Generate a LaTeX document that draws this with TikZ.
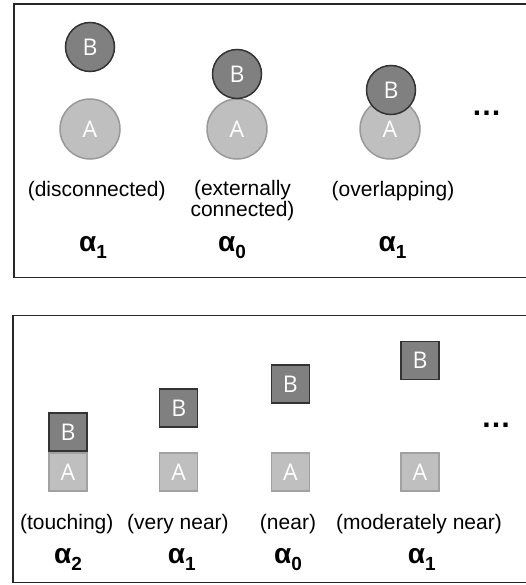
\documentclass[tikz,border=0pt]{standalone}
\usepackage{fontspec}
\setmainfont{Liberation Sans}
\newfontfamily\shapefont{Open Sans}
\newcommand\alphalbl[1]{α\raisebox{-0.25em}{\fontsize{19}{19}\selectfont #1}}
\tikzset{
  frame/.style={draw=black!85, line width=1.4pt},
  circA/.style={circle, draw=black!40, fill=black!25, line width=1.5pt, minimum size=60pt, inner sep=0pt, text=white, font=\shapefont\fontsize{23}{23}\selectfont},
  circB/.style={circle, draw=black!80, fill=black!50, line width=1.5pt, minimum size=49pt, inner sep=0pt, text=white, font=\shapefont\fontsize{23}{23}\selectfont},
  sqA/.style={rectangle, draw=black!37, fill=black!25, line width=1.5pt, minimum size=38pt, inner sep=0pt, text=white, font=\shapefont\fontsize{23}{23}\selectfont},
  sqB/.style={rectangle, draw=black!80, fill=black!50, line width=1.5pt, minimum size=38pt, inner sep=0pt, text=white, font=\shapefont\fontsize{23}{23}\selectfont},
  lbl/.style={inner sep=0pt, align=center, font=\fontsize{21}{21}\selectfont},
  alph/.style={inner sep=0pt, anchor=base, font=\bfseries\fontsize{28}{28}\selectfont},
  dots/.style={inner sep=0pt, anchor=base, font=\bfseries\fontsize{30}{30}\selectfont}
}
\begin{document}
\begin{tikzpicture}[x=1pt, y=-1pt]
  \useasboundingbox (0,0) rectangle (526,585);
  % frames
  \draw[frame] (14,4) rectangle (540,277.7);
  \draw[frame] (13,315.7) rectangle (540,582.7);
  % top row: circles
  \node[circA] (a1) at (90,129) {A};
  \node[circB] (b1) at (90,47) {B};
  \node[circA] (a2) at (237,129) {A};
  \node[circB] (b2) at (237,74) {B};
  \node[circA] (a3) at (390,129) {A};
  \node[circB] (b3) at (391,90) {B};
  \node[dots] (d1) at (486.5,116) {…};
  \node[lbl] (l1) at (96.7,190.8) {(disconnected)};
  \node[lbl] (l2) at (242.5,200.8) {(externally\\connected)};
  \node[lbl] (l3) at (393,190.8) {(overlapping)};
  \node[alph] (g1) at (93,251) {\alphalbl{1}};
  \node[alph] (g2) at (232,251) {\alphalbl{0}};
  \node[alph] (g3) at (392.5,251) {\alphalbl{1}};
  % bottom row: squares
  \node[sqA] (sa1) at (68,472.2) {A};
  \node[sqB] (sb1) at (68,432.2) {B};
  \node[sqA] (sa2) at (178.7,472.2) {A};
  \node[sqB] (sb2) at (178.7,408) {B};
  \node[sqA] (sa3) at (290.3,472.2) {A};
  \node[sqB] (sb3) at (290.3,384) {B};
  \node[sqA] (sa4) at (420,472.2) {A};
  \node[sqB] (sb4) at (420,360.3) {B};
  \node[dots] (d2) at (496,427.3) {…};
  \node[lbl] (m1) at (66.7,524) {(touching)};
  \node[lbl] (m2) at (178,524) {(very near)};
  \node[lbl] (m3) at (288,524) {(near)};
  \node[lbl] (m4) at (419,524) {(moderately near)};
  \node[alph] (h1) at (68,563.3) {\alphalbl{2}};
  \node[alph] (h2) at (181.7,563.3) {\alphalbl{1}};
  \node[alph] (h3) at (288,563.3) {\alphalbl{0}};
  \node[alph] (h4) at (421.7,563.3) {\alphalbl{1}};
\end{tikzpicture}
\end{document}
